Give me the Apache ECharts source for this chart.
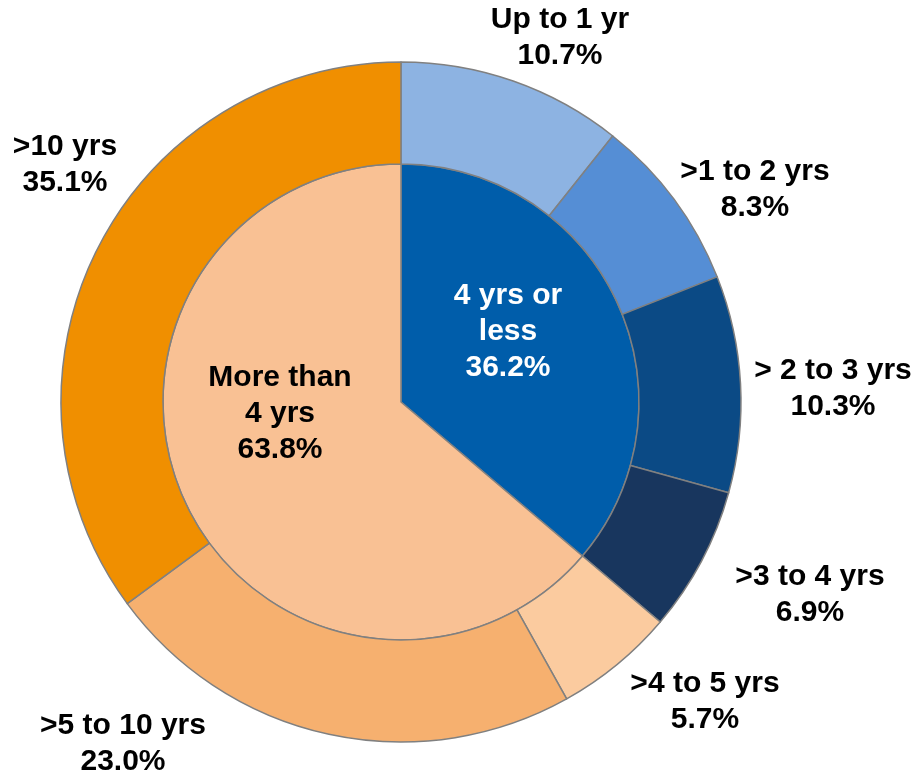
<!DOCTYPE html>
<html>
<head>
<meta charset="utf-8">
<script src="https://cdn.jsdelivr.net/npm/echarts@6/dist/echarts.min.js"></script>
<style>
  html, body { margin: 0; padding: 0; background: #fff; }
  #chart { width: 918px; height: 776px; }
</style>
</head>
<body>
<div id="chart"></div>
<script>
// inner ring: two groups
var groupNames = ['4 yrs or\nless', 'More than\n4 yrs'];
var groupValues = [36.2, 63.8];
var groupColors = ['#005DAA', '#F9C194'];

// outer ring: age bands
var bandNames = ['Up to 1 yr', '>1 to 2 yrs', '> 2 to 3 yrs', '>3 to 4 yrs', '>4 to 5 yrs', '>5 to 10 yrs', '>10 yrs'];
var bandValues = [10.7, 8.3, 10.3, 6.9, 5.7, 23.0, 35.1];
var bandColors = ['#8DB3E2', '#558ED5', '#0B4A85', '#18365E', '#FBCB9F', '#F6B06F', '#F08F00'];

// where the labels sit (centre of text block)
var bandLabelPos = [[560, 38], [755, 190], [833, 389], [810, 595], [705, 702], [123, 744], [65, 165]];
var groupLabelPos = [[508, 332], [280, 414]];

var chart = echarts.init(document.getElementById('chart'));

var labelFont = {
    fontFamily: 'Liberation Sans, Arial, sans-serif',
    fontWeight: 'bold',
    fontSize: 30,
    lineHeight: 36,
    align: 'center',
    overflow: 'none'
};

chart.setOption({
    animation: false,
    series: [
        {
            name: 'groups',
            type: 'pie',
            center: [401, 402],
            radius: [0, 238],
            startAngle: 90,
            clockwise: true,
            silent: true,
            itemStyle: { borderColor: '#808080', borderWidth: 1.5 },
            label: Object.assign({
                position: 'inside',
                formatter: function (p) { return p.name + '\n' + p.value.toFixed(1) + '%'; }
            }, labelFont),
            labelLine: { show: false },
            labelLayout: function (p) {
                var pos = groupLabelPos[p.dataIndex];
                return { x: pos[0], y: pos[1], align: 'center', verticalAlign: 'middle' };
            },
            data: groupValues.map(function (v, i) {
                return {
                    name: groupNames[i],
                    value: v,
                    itemStyle: { color: groupColors[i] },
                    label: { color: i === 0 ? '#ffffff' : '#000000' }
                };
            })
        },
        {
            name: 'bands',
            type: 'pie',
            center: [401, 402],
            radius: [238, 340],
            startAngle: 90,
            clockwise: true,
            silent: true,
            itemStyle: { borderColor: '#808080', borderWidth: 1.5 },
            label: Object.assign({
                position: 'outside',
                color: '#000',
                bleedMargin: 0,
                formatter: function (p) { return p.name + '\n' + p.value.toFixed(1) + '%'; }
            }, labelFont),
            labelLine: { show: false },
            labelLayout: function (p) {
                var pos = bandLabelPos[p.dataIndex];
                return { x: pos[0], y: pos[1], align: 'center', verticalAlign: 'middle' };
            },
            data: bandValues.map(function (v, i) {
                return { name: bandNames[i], value: v, itemStyle: { color: bandColors[i] } };
            })
        }
    ]
});
</script>
</body>
</html>
